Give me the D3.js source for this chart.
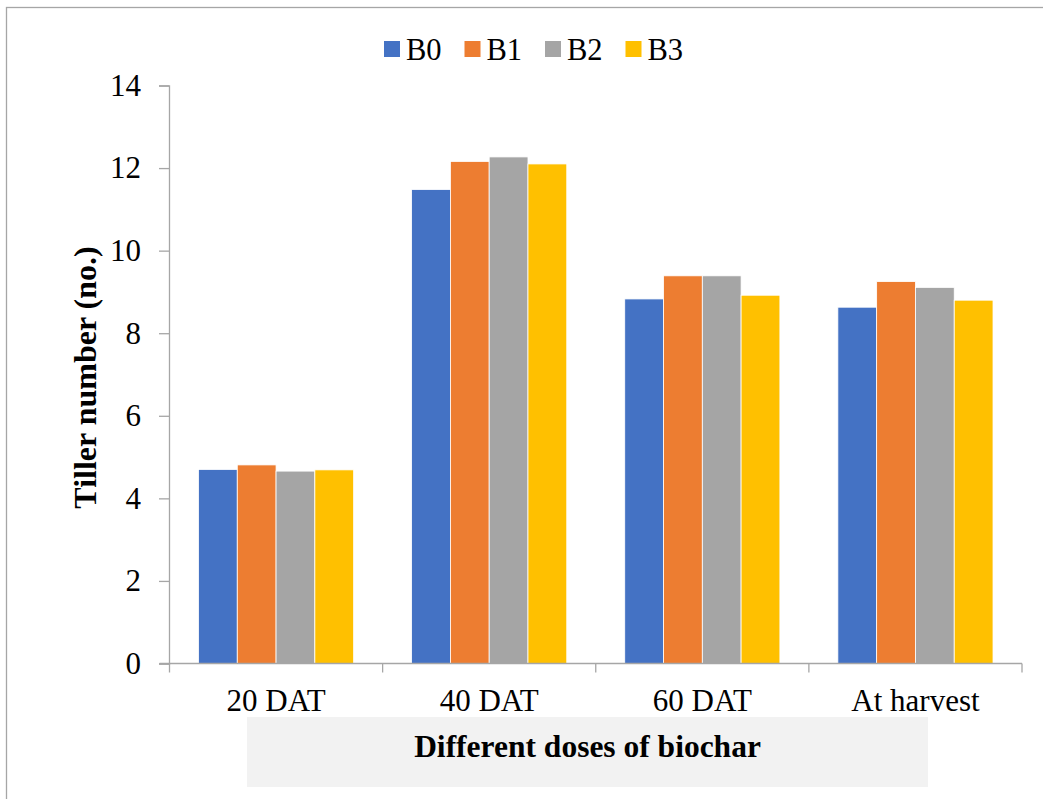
<!DOCTYPE html>
<html>
<head>
<meta charset="utf-8">
<script src="https://cdn.jsdelivr.net/npm/d3@7"></script>
<style>
  html, body { margin: 0; padding: 0; background: #fff; }
  svg { display: block; }
  svg text { font-family: "Liberation Serif", "Times New Roman", serif; fill: #000; }
</style>
</head>
<body>
<svg id="chart" width="1043" height="799"></svg>
<script>
// Tiller number at each growth stage for four biochar doses
const stages = ["20 DAT", "40 DAT", "60 DAT", "At harvest"];
const seriesNames = ["B0", "B1", "B2", "B3"];
const B0 = [4.70, 11.48, 8.83, 8.63];
const B1 = [4.81, 12.16, 9.39, 9.25];
const B2 = [4.66, 12.27, 9.39, 9.11];
const B3 = [4.69, 12.10, 8.92, 8.80];
const yTicks = [0, 2, 4, 6, 8, 10, 12, 14];
const colors = ["#4472c4", "#ed7d31", "#a5a5a5", "#ffc000"];
const yTitle = "Tiller number (no.)";
const xTitle = "Different doses of biochar";

const serif = "'Liberation Serif', 'Times New Roman', serif";
const seriesValues = [B0, B1, B2, B3];
const rows = stages.map((s, i) => ({
  stage: s,
  values: seriesNames.map((n, k) => ({ key: n, value: seriesValues[k][i] }))
}));

const svg = d3.select("#chart");
const margin = { left: 169.5, right: 1022, top: 85.5, bottom: 663.5 };

// Outer chart frame
svg.append("rect")
  .attr("x", 6.5).attr("y", 7.5)
  .attr("width", 1060).attr("height", 820)
  .attr("fill", "none").attr("stroke", "#a6a6a6").attr("stroke-width", 1.3);

const x0 = d3.scaleBand()
  .domain(stages)
  .range([margin.left, margin.right])
  .paddingInner(0.272)
  .paddingOuter(0.136);

const x1 = d3.scaleBand()
  .domain(seriesNames)
  .range([0, x0.bandwidth()]);

const y = d3.scaleLinear()
  .domain([0, 14])
  .range([margin.bottom, margin.top]);

const color = d3.scaleOrdinal().domain(seriesNames).range(colors);

// Bars
const groups = svg.append("g").selectAll("g")
  .data(rows)
  .join("g")
  .attr("transform", d => `translate(${x0(d.stage)},0)`);

groups.selectAll("rect")
  .data(d => d.values)
  .join("rect")
  .attr("x", d => x1(d.key))
  .attr("y", d => y(d.value))
  .attr("width", x1.bandwidth())
  .attr("height", d => y(0) - y(d.value))
  .attr("fill", d => color(d.key))
  .attr("stroke", "#ffffff")
  .attr("stroke-width", 0.8);

// Y axis
const yAxis = svg.append("g")
  .attr("transform", `translate(${margin.left - 0.5},0)`)
  .call(d3.axisLeft(y).tickValues(yTicks).tickSize(10).tickPadding(18));
yAxis.attr("font-family", null).attr("font-size", null);
yAxis.select(".domain").attr("stroke", "#a6a6a6").attr("stroke-width", 1.3);
yAxis.selectAll(".tick line").attr("stroke", "#a6a6a6").attr("stroke-width", 1.3);
yAxis.selectAll(".tick text")
  .style("font-family", serif)
  .style("font-size", "31px").attr("fill", "#000");

// X axis: ticks at band boundaries
const xLine = svg.append("g");
const xb = d3.scaleLinear().domain([0, stages.length]).range([margin.left, margin.right]);
xLine.append("line")
  .attr("x1", margin.left - 10).attr("x2", margin.right)
  .attr("y1", y(0)).attr("y2", y(0))
  .attr("stroke", "#a6a6a6").attr("stroke-width", 1.3);
xLine.selectAll("line.tk")
  .data(d3.range(stages.length + 1))
  .join("line")
  .attr("class", "tk")
  .attr("x1", d => xb(d)).attr("x2", d => xb(d))
  .attr("y1", y(0)).attr("y2", y(0) + 9)
  .attr("stroke", "#a6a6a6").attr("stroke-width", 1.3);

svg.append("g").selectAll("text")
  .data(stages)
  .join("text")
  .attr("x", d => x0(d) + x0.bandwidth() / 2)
  .attr("y", 711)
  .attr("text-anchor", "middle")
  .style("font-family", serif)
  .style("font-size", "31px")
  .text(d => d);

// X axis title with shaded box
svg.append("rect")
  .attr("x", 247).attr("y", 717)
  .attr("width", 681).attr("height", 70)
  .attr("fill", "#f2f2f2");
svg.append("text")
  .attr("x", 587.5).attr("y", 757)
  .attr("text-anchor", "middle")
  .style("font-family", serif)
  .style("font-size", "31.5px").style("font-weight", "bold")
  .text(xTitle);

// Y axis title
svg.append("text")
  .attr("transform", `translate(96,${(margin.top + margin.bottom) / 2 + 3}) rotate(-90)`)
  .attr("text-anchor", "middle")
  .style("font-family", serif)
  .style("font-size", "32px").style("font-weight", "bold")
  .text(yTitle);

// Legend
const legend = svg.append("g").selectAll("g")
  .data(seriesNames)
  .join("g")
  .attr("transform", (d, i) => `translate(${384 + i * 80.5},41)`);
legend.append("rect")
  .attr("width", 16).attr("height", 16)
  .attr("fill", d => color(d));
legend.append("text")
  .attr("x", 22).attr("y", 18.5)
  .style("font-family", serif)
  .style("font-size", "30.5px")
  .text(d => d);
</script>
</body>
</html>
